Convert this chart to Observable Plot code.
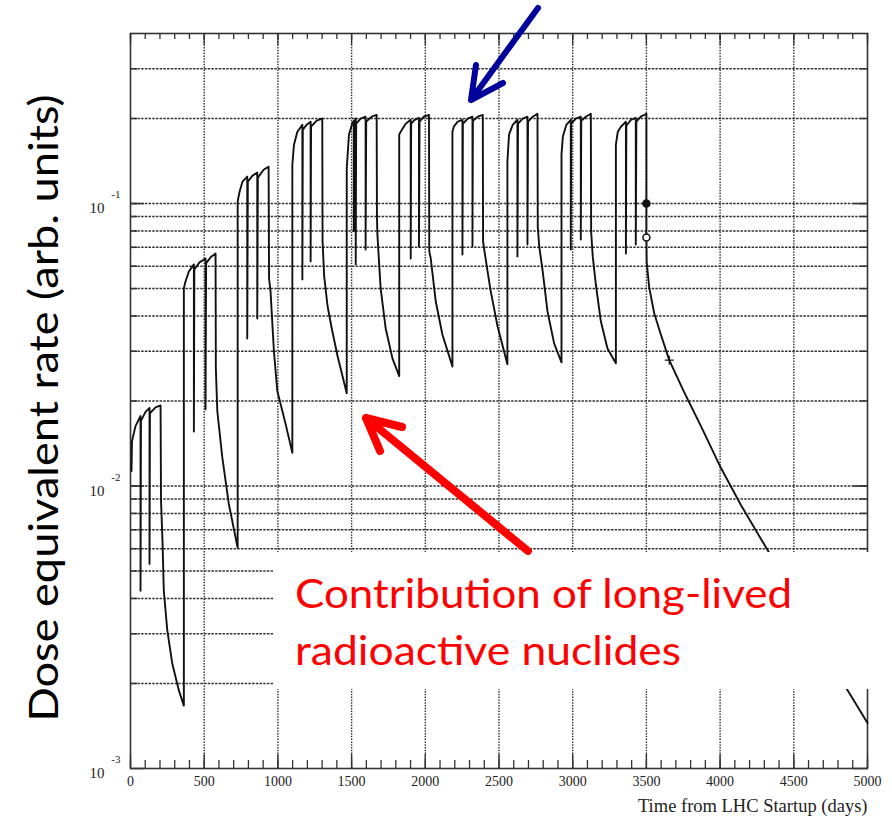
<!DOCTYPE html>
<html><head><meta charset="utf-8">
<script src="https://cdn.jsdelivr.net/npm/d3@7"></script>
<script src="https://cdn.jsdelivr.net/npm/@observablehq/plot@0.6"></script>
<style>
html,body{margin:0;padding:0;background:#fff;}
#chart{width:892px;height:822px;overflow:hidden;}
</style></head><body><div id="chart"></div>
<script>
// ---- data: [day, dose equivalent rate] ----
const cycle1 = [[7,0.0113],[10,0.0144],[34,0.0163],[68,0.0177],[68,0.00426],[71,0.0170],[102,0.0183],[129,0.0189],[129,0.0053],[132,0.0181],[170,0.0190],[204,0.0193],[207,0.0089],[217,0.0064],[226,0.00426],[249,0.0031],[283,0.00236],[328,0.00189],[362,0.00167]];
const cycle2 = [[362,0.0501],[373,0.0530],[396,0.0575],[430,0.0609],[430,0.0156],[433,0.0584],[468,0.0619],[509,0.0639],[509,0.0187],[513,0.0614],[543,0.0645],[577,0.0666],[579,0.0261],[589,0.0184],[623,0.0126],[667,0.00864],[727,0.00604]];
const cycle3 = [[727,0.1017],[740,0.1102],[760,0.1196],[792,0.1246],[792,0.0333],[796,0.1196],[828,0.1256],[860,0.1287],[860,0.0392],[864,0.1236],[903,0.1318],[937,0.1351],[940,0.0543],[950,0.0489],[973,0.0300],[996,0.0217],[1052,0.0166],[1098,0.0131]];
const cycle4 = [[1098,0.1373],[1109,0.1616],[1132,0.1796],[1166,0.190],[1166,0.0539],[1169,0.1826],[1195,0.190],[1222,0.195],[1222,0.0624],[1225,0.1871],[1263,0.1965],[1301,0.200],[1303,0.0734],[1314,0.0552],[1337,0.0433],[1365,0.0362],[1405,0.0288],[1467,0.0213]];
const cycle5 = [[1467,0.133],[1482,0.1753],[1505,0.193],[1515,0.196],[1515,0.080],[1518,0.195],[1528,0.200],[1528,0.0609],[1531,0.1917],[1561,0.200],[1595,0.203],[1595,0.0688],[1599,0.195],[1636,0.203],[1670,0.206],[1672,0.090],[1675,0.0777],[1697,0.0501],[1731,0.0362],[1777,0.0283],[1823,0.0245]];
const cycle6 = [[1823,0.1753],[1833,0.1796],[1867,0.1917],[1901,0.198],[1901,0.0639],[1904,0.1917],[1928,0.198],[1957,0.201],[1957,0.0705],[1961,0.195],[1989,0.203],[2025,0.206],[2027,0.0677],[2037,0.0639],[2071,0.045],[2116,0.0344],[2184,0.0265]];
const cycle7 = [[2184,0.1796],[2193,0.1871],[2220,0.195],[2252,0.198],[2252,0.066],[2255,0.1917],[2288,0.200],[2320,0.203],[2320,0.0705],[2323,0.1965],[2356,0.203],[2390,0.206],[2392,0.0734],[2417,0.0599],[2444,0.0489],[2490,0.0368],[2557,0.027]];
const cycle8 = [[2557,0.1407],[2568,0.1753],[2593,0.190],[2625,0.198],[2625,0.065],[2629,0.1917],[2661,0.200],[2693,0.203],[2693,0.0716],[2697,0.195],[2729,0.203],[2761,0.208],[2763,0.0829],[2773,0.0705],[2795,0.0584],[2829,0.0415],[2874,0.032],[2924,0.0274]];
const cycle9 = [[2924,0.149],[2933,0.1725],[2957,0.190],[2987,0.198],[2987,0.0688],[2990,0.1917],[3021,0.200],[3055,0.203],[3055,0.0746],[3058,0.1965],[3089,0.203],[3123,0.208],[3125,0.0796],[3136,0.065],[3157,0.0517],[3191,0.0383],[3236,0.0307],[3293,0.0272]];
const cycle10 = [[3293,0.1616],[3306,0.1796],[3327,0.1871],[3361,0.195],[3361,0.0666],[3364,0.1886],[3395,0.198],[3428,0.201],[3428,0.0716],[3432,0.195],[3462,0.203],[3500,0.208]];
const tail = [[3500,0.1],[3500,0.0759],[3502,0.062],[3519,0.0505],[3553,0.0409],[3598,0.0344],[3655,0.0279],[3756,0.0215],[3870,0.0163],[4005,0.0116],[4141,0.00857],[4333,0.0058],[4866,0.00189],[5000,0.00145]];
const filledMarkers = [[3500,0.1]];
const openMarkers = [[3500,0.0759]];
const plusMarkers = [[3655,0.0279]];

// ---- axes ----
const xTickLabels = [0,500,1000,1500,2000,2500,3000,3500,4000,4500,5000];
const xGridDays = [500,1000,1500,2000,2500,3000,3500,4000,4500];
const yDecades = [0.1,0.01,0.001];
const yGridValues = [0.002,0.003,0.004,0.005,0.006,0.007,0.008,0.009,0.01,0.02,0.03,0.04,0.05,0.06,0.07,0.08,0.09,0.1,0.2,0.3];
const yTitle = "Dose equivalent rate (arb. units)";
const xTitle = "Time from LHC Startup (days)";
const noteLines = ["Contribution of long-lived","radioactive nuclides"];

const series = [cycle1,cycle2,cycle3,cycle4,cycle5,cycle6,cycle7,cycle8,cycle9,cycle10,tail].flat().map(([day,dose])=>({day,dose}));
const minorX = d3.range(0,5001,100);

const W=892,H=822,mL=130,mR=25,mT=33,mB=54;
const fw=W-mL-mR, fh=H-mT-mB;
const serif="'Liberation Serif','DejaVu Serif',serif";
const gridStroke="#333";

const plot = Plot.plot({
  width:W,height:H,marginLeft:mL,marginRight:mR,marginTop:mT,marginBottom:mB,
  x:{domain:[0,5000],axis:null},
  y:{type:"log",domain:[0.001,0.4],axis:null},
  style:{background:"white",fontFamily:serif},
  marks:[
    Plot.ruleY(yGridValues,{y:d=>d,stroke:gridStroke,strokeWidth:1.5,strokeDasharray:"2.5,1.2"}),
    Plot.ruleX(xGridDays,{x:d=>d,stroke:gridStroke,strokeWidth:1.4,strokeDasharray:"1.5,1.3"}),
    Plot.tickX(minorX,{x:d=>d,insetTop:fh-8,stroke:"#333",strokeWidth:1.3}),
    Plot.tickX(xTickLabels,{x:d=>d,insetTop:fh-14,stroke:"#333",strokeWidth:1.3}),
    Plot.tickX(minorX,{x:d=>d,insetBottom:fh-6,stroke:"#333",strokeWidth:1.3}),
    Plot.tickX(xTickLabels,{x:d=>d,insetBottom:fh-12,stroke:"#333",strokeWidth:1.3}),
    Plot.tickY(yGridValues,{y:d=>d,insetRight:fw-7,stroke:"#333",strokeWidth:1.5}),
    Plot.tickY(yDecades,{y:d=>d,insetRight:fw-14,stroke:"#333",strokeWidth:1.5}),
    Plot.tickY(yGridValues,{y:d=>d,insetLeft:fw-7,stroke:"#333",strokeWidth:1.5}),
    Plot.tickY(yDecades,{y:d=>d,insetLeft:fw-14,stroke:"#333",strokeWidth:1.5}),
    Plot.frame({stroke:"#333",strokeWidth:1.6}),
    Plot.line(series,{x:"day",y:"dose",stroke:"#111",strokeWidth:1.9}),
    Plot.dot(filledMarkers,{x:d=>d[0],y:d=>d[1],r:3.5,fill:"#111",stroke:"#111"}),
    Plot.dot(openMarkers,{x:d=>d[0],y:d=>d[1],r:3.5,fill:"white",stroke:"#111",strokeWidth:1.5}),
    Plot.dot(plusMarkers,{x:d=>d[0],y:d=>d[1],r:3,symbol:"plus",stroke:"#111",strokeWidth:1.2}),
    Plot.text(xTickLabels,{x:d=>d,frameAnchor:"bottom",dy:17,text:d=>String(d),fontFamily:serif,fontSize:14,fill:"#222"}),
    Plot.text(yDecades,{y:d=>d,frameAnchor:"left",dx:-26,dy:5,textAnchor:"end",text:()=>"10",fontFamily:serif,fontSize:15,fill:"#222"}),
    Plot.text(yDecades,{y:d=>d,frameAnchor:"left",dx:-10,dy:-9,textAnchor:"end",text:d=>String(Math.round(Math.log10(d))),fontFamily:serif,fontSize:11,fill:"#222"}),
    Plot.text([xTitle],{frameAnchor:"bottom-right",dy:43,textAnchor:"end",text:d=>d,fontFamily:serif,fontSize:18.5,fill:"#222"})
  ]
});
document.getElementById("chart").appendChild(plot);

// ---- slide annotations ----
const svg = d3.select(plot);
const sans = "Lato,'Open Sans',sans-serif";
const ann = svg.append("g").attr("text-anchor","start");
ann.append("rect").attr("x",273).attr("y",552).attr("width",W-273).attr("height",137).attr("fill","white");
ann.append("text").attr("x",295).attr("y",608).attr("text-anchor","start").attr("font-family",sans).attr("font-size",40).attr("fill","#ff0000")
  .attr("textLength",497).attr("lengthAdjust","spacingAndGlyphs").text(noteLines[0]);
ann.append("text").attr("x",295).attr("y",665).attr("text-anchor","start").attr("font-family",sans).attr("font-size",40).attr("fill","#ff0000")
  .attr("textLength",386).attr("lengthAdjust","spacingAndGlyphs").text(noteLines[1]);
ann.append("path").attr("d","M528,551L366,418M402,427L366,418L380,451")
  .attr("fill","none").attr("stroke","#ff0000").attr("stroke-width",8).attr("stroke-linecap","round").attr("stroke-linejoin","round");
ann.append("path").attr("d","M538,8L471,100M476,65L471,100L503,83")
  .attr("fill","none").attr("stroke","#00009b").attr("stroke-width",6).attr("stroke-linecap","round").attr("stroke-linejoin","round");
ann.append("text").attr("transform","translate(58,408) rotate(-90)").attr("text-anchor","middle")
  .attr("font-family",sans).attr("font-size",40).attr("fill","#000")
  .attr("textLength",627).attr("lengthAdjust","spacingAndGlyphs").text(yTitle);
</script></body></html>
